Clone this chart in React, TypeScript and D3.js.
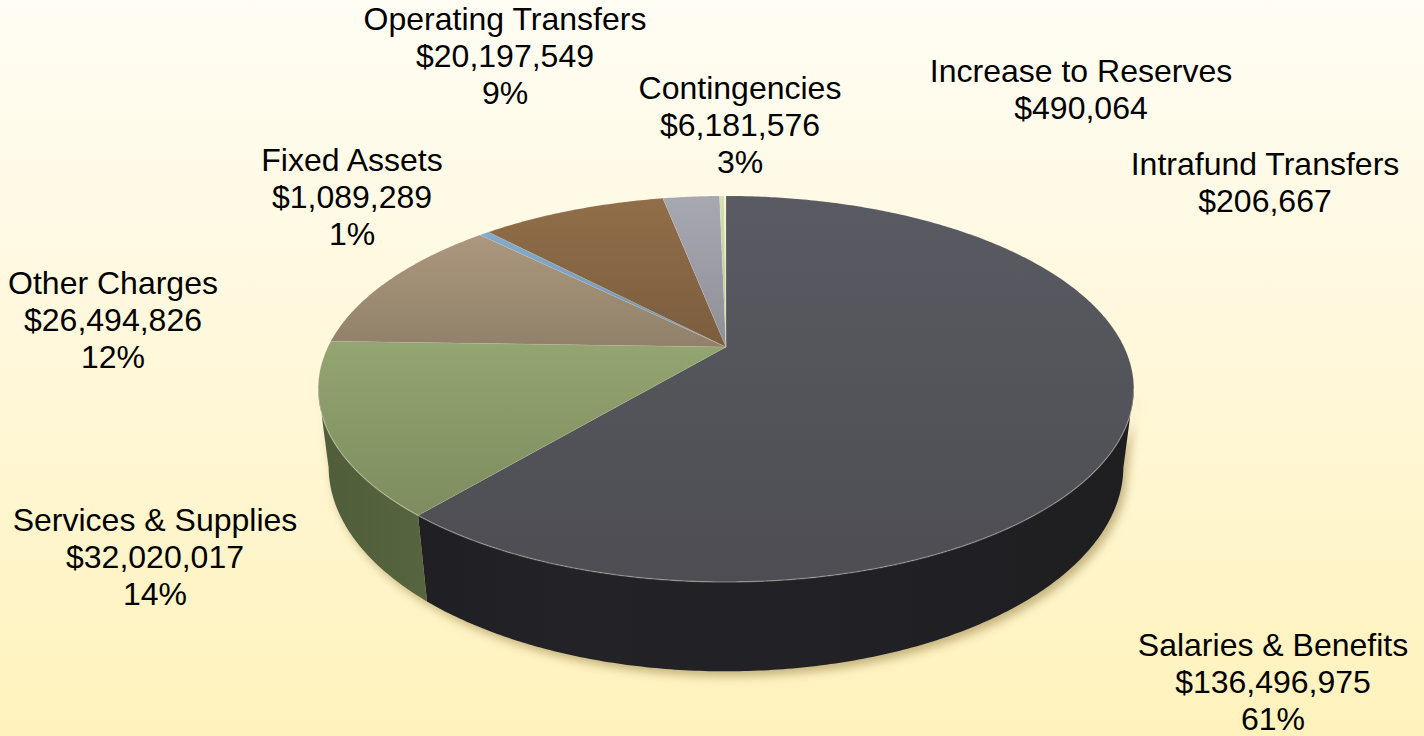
import React from 'react';
import * as d3 from 'd3';

// budget categories, clockwise from 12 o'clock
const categories = [
  'Salaries & Benefits',
  'Services & Supplies',
  'Other Charges',
  'Fixed Assets',
  'Operating Transfers',
  'Contingencies',
  'Increase to Reserves',
  'Intrafund Transfers',
];
const amounts = [136496975, 32020017, 26494826, 1089289, 20197549, 6181576, 490064, 206667];
const percentLabels = ['61%', '14%', '12%', '1%', '9%', '3%', '', ''];

// label anchors (center x, first line y)
const labelX = [1273, 155, 113, 352, 505, 740, 1081, 1265];
const labelY = [645, 520, 283, 160, 19, 88, 71, 164];

const topColors = ['#54545b', '#899a68', '#9f8d74', '#7b9fbf', '#876644', '#9c9ca6', '#c3d3a3', '#ebe4bd'];
const sideColors = ['#212125', '#5a6942', '#6e604c', '#4d6b86', '#5c4429', '#65656d', '#8c9a70', '#b0a880'];

const W = 1424;
const H = 736;

// simple perspective camera for the disc
const cx = 726;
const cy = 347;
const sinP = 0.462;
const cosP = 0.887;
const dist = 4.08;
const focal = 1624;
const depth = 0.221;

const proj = (a: number, r: number, y: number): [number, number] => {
  const X = r * Math.sin(a);
  const Z = r * Math.cos(a);
  const yc = y * cosP + Z * sinP;
  const zc = dist + Z * cosP - y * sinP;
  return [cx + (focal * X) / zc, cy - (focal * yc) / zc];
};

const visFrom = Math.acos(-cosP / dist);
const visTo = 2 * Math.PI - visFrom;

const samples = (a0: number, a1: number) => {
  const n = Math.max(2, Math.ceil((a1 - a0) / 0.01));
  return d3.range(n + 1).map((i) => a0 + ((a1 - a0) * i) / n);
};

const line = d3.line();

const topPath = (a0: number, a1: number) =>
  line([proj(0, 0, 0), ...samples(a0, a1).map((a) => proj(a, 1, 0))]) + 'Z';

const wallPath = (a0: number, a1: number) => {
  const lo = Math.max(a0, visFrom);
  const hi = Math.min(a1, visTo);
  if (lo >= hi) return null;
  const s = samples(lo, hi);
  const pts = [...s.map((a) => proj(a, 1, 0)), ...s.slice().reverse().map((a) => proj(a, 1, -depth))];
  return line(pts) + 'Z';
};

const fmt = d3.format('$,');

const App = () => {
  const arcs = d3
    .pie<number>()
    .sort(null)
    .startAngle(0)
    .endAngle(2 * Math.PI)(amounts);

  const shadowPath = wallPath(0, 2 * Math.PI);
  const rimFront = line(samples(visFrom, visTo).map((a) => proj(a, 1, 0)));
  const [x0] = proj(-visFrom, 1, 0);
  const [x1] = proj(visFrom, 1, 0);

  return (
    <svg
      width={W}
      height={H}
      style={{ position: 'fixed', left: 0, top: 0 }}
      fontFamily="'Liberation Sans', Arial, sans-serif"
    >
      <defs>
        <linearGradient id="bg" x1="0" y1="0" x2="0" y2="1">
          <stop offset="0" stopColor="#fffdf4" />
          <stop offset="0.45" stopColor="#fff8dc" />
          <stop offset="1" stopColor="#fff2bc" />
        </linearGradient>
        <filter id="blur" x="-10%" y="-10%" width="120%" height="130%">
          <feGaussianBlur stdDeviation="5" />
        </filter>
        {arcs.map((d, i) => (
          <linearGradient key={'t' + i} id={'top' + i} x1="0" y1="0" x2="0" y2="1">
            <stop offset="0" stopColor={d3.color(topColors[i])!.brighter(0.2).formatHex()} />
            <stop offset="1" stopColor={d3.color(topColors[i])!.darker(0.25).formatHex()} />
          </linearGradient>
        ))}
        {arcs.map((d, i) => (
          <linearGradient
            key={'s' + i}
            id={'side' + i}
            gradientUnits="userSpaceOnUse"
            x1={x0}
            y1="0"
            x2={x1}
            y2="0"
          >
            <stop offset="0" stopColor={d3.color(sideColors[i])!.darker(0.35).formatHex()} />
            <stop offset="0.3" stopColor={d3.color(sideColors[i])!.brighter(0.15).formatHex()} />
            <stop offset="0.7" stopColor={sideColors[i]} />
            <stop offset="1" stopColor={d3.color(sideColors[i])!.darker(0.3).formatHex()} />
          </linearGradient>
        ))}
      </defs>

      <rect width={W} height={H} fill="url(#bg)" />

      {shadowPath && (
        <path d={shadowPath} fill="#8a7438" opacity={0.5} filter="url(#blur)" transform="translate(4,5)" />
      )}

      {arcs.map((d, i) => {
        const p = wallPath(d.startAngle, d.endAngle);
        return p ? <path key={'w' + i} d={p} fill={`url(#side${i})`} /> : null;
      })}

      {arcs.map((d, i) => (
        <path
          key={'f' + i}
          d={topPath(d.startAngle, d.endAngle)}
          fill={`url(#top${i})`}
          stroke="rgba(255,255,255,0.12)"
          strokeWidth={0.8}
          strokeLinejoin="round"
        />
      ))}

      <path d={rimFront ?? ''} fill="none" stroke="rgba(255,255,255,0.22)" strokeWidth={1.5} />

      {categories.map((c, i) => {
        const lines = [c, fmt(amounts[i]), percentLabels[i]].filter((t) => t !== '');
        return (
          <text key={'l' + i} x={labelX[i]} y={labelY[i]} textAnchor="middle" fontSize={32} fill="#000">
            {lines.map((t, j) => (
              <tspan key={j} x={labelX[i]} dy={j === 0 ? 0 : 37} dominantBaseline="central">
                {t}
              </tspan>
            ))}
          </text>
        );
      })}
    </svg>
  );
};

export default App;
